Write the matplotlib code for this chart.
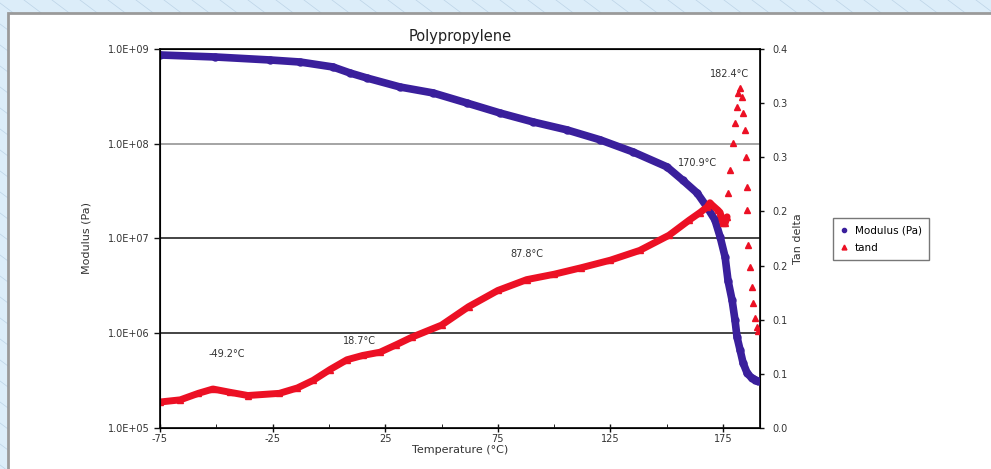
import matplotlib
matplotlib.use("Agg")
import matplotlib.pyplot as plt
from matplotlib.lines import Line2D
from matplotlib.patches import Rectangle
from matplotlib.ticker import FixedLocator, FuncFormatter

plt.rcParams['font.family'] = ['DejaVu Sans']
plt.rcParams['axes.unicode_minus'] = False

# storage modulus (Pa) vs temperature (C)
mod_temp = [-75, -50.6, -26.2, -12.8, 1.8, 9.4, 16.9, 31.6, 46.2, 61.3, 76.0,
            90.6, 105.7, 120.4, 135.0, 150.1, 157.2, 163.5, 167.9, 171.4,
            173.7, 175.9, 177.2, 179.0, 180.3, 181.2, 182.6, 183.9, 185.7,
            187.7, 189.2, 190.5]
modulus = [8.65e8, 8.24e8, 7.66e8, 7.29e8, 6.46e8, 5.58e8, 4.94e8, 3.97e8,
           3.44e8, 2.69e8, 2.11e8, 1.70e8, 1.40e8, 1.10e8, 8.2e7, 5.7e7,
           4.1e7, 3.02e7, 2.14e7, 1.57e7, 1.04e7, 6.4e6, 3.6e6, 2.24e6,
           1.38e6, 9.1e5, 6.6e5, 4.85e5, 3.8e5, 3.37e5, 3.24e5, 3.1e5]

# tan delta, dense part of the run
tan_temp = [-75, -66, -58, -51.5, -44, -36, -22, -14, -7, 0.5, 8, 15, 22.7,
            30, 37, 50, 62, 75, 87.8, 100, 112, 125, 138, 151, 160, 164.8,
            167.9, 169.2, 170.1, 172.8, 173.7, 175.0, 175.9, 176.8]
tan_delta = [0.024, 0.026, 0.032, 0.036, 0.033, 0.030, 0.032, 0.037, 0.044,
             0.054, 0.063, 0.067, 0.070, 0.077, 0.084, 0.095, 0.112, 0.127,
             0.137, 0.142, 0.148, 0.155, 0.164, 0.178, 0.192, 0.199, 0.204,
             0.208, 0.206, 0.201, 0.199, 0.189, 0.189, 0.195]

# tan delta around the melt peak (sparse points)
peak_temp = [177.2, 178.1, 179.4, 180.3, 181.2, 181.6, 182.5, 183.4, 183.8,
             184.7, 185.1, 185.6, 185.8, 186.0, 186.9, 187.8, 188.3, 189.2,
             190.1, 190.5]
peak_tan = [0.217, 0.238, 0.263, 0.282, 0.296, 0.309, 0.314, 0.306, 0.291,
            0.275, 0.250, 0.223, 0.201, 0.169, 0.149, 0.130, 0.115, 0.102,
            0.093, 0.090]

# transition temperatures written on the chart
label_temp = [-49.2, 18.7, 87.8, 170.9, 182.4]
label_tan = [0.066, 0.078, 0.160, 0.245, 0.330]
label_shift = [(6, -2), (-8, -2), (0, -3), (-12, -4), (-7, -6)]

tan_ticks = [0, 0.05, 0.10, 0.15, 0.20, 0.25, 0.30, 0.35]
tan_ticklabels = ["0.0", "0.1", "0.1", "0.2", "0.2", "0.3", "0.3", "0.4"]

purple = '#3a1f9c'
red = '#ec1024'
txt = '#333333'

fig = plt.figure(figsize=(9.91, 4.69), dpi=100, facecolor='#dcedf9')

# page background: faint diagonal hatching behind the white panel
W, H = 991, 469
for x0 in range(-900, W + 30, 28):
    fig.add_artist(Line2D([x0 / W, (x0 + 800) / W], [1, 1 - 600 / H],
                          transform=fig.transFigure, color='#bcd3e6',
                          lw=0.5, zorder=-20))
fig.patches.append(Rectangle((8 / W, -0.01), 1, (457 + 4) / H,
                             transform=fig.transFigure, facecolor='white',
                             edgecolor='#9a9a9a', lw=2, zorder=-10))

ax = fig.add_axes([160 / W, 41 / H, 600 / W, 379 / H])
ax.set_yscale('log')
ax.set_ylim(1e5, 1e9)
ax.set_xlim(-75, 191.4)
ax.set_facecolor('none')

for v, c in [(1e8, '#8c8c8c'), (1e7, '#111111'), (1e6, '#111111')]:
    ax.axhline(v, color=c, lw=1.1, zorder=0)

ax.plot(mod_temp, modulus, color=purple, lw=5.5, marker='o', ms=5,
        solid_capstyle='round', solid_joinstyle='round', zorder=3)

ax.yaxis.set_major_locator(FixedLocator([1e5, 1e6, 1e7, 1e8, 1e9]))
ax.yaxis.set_minor_locator(FixedLocator([]))
ax.yaxis.set_major_formatter(FuncFormatter(lambda v, p: f"{v:.1E}"))
ax.set_xticks([-75, -25, 25, 75, 125, 175])
ax.set_xticks([-50, 0, 50, 100, 150], minor=True)
ax.tick_params(axis='both', labelsize=7, labelcolor=txt, color='#111111',
               length=4, width=1)
ax.tick_params(axis='x', direction='inout', length=6, pad=1)
ax.tick_params(axis='x', which='minor', direction='in', length=3)
for s in ax.spines.values():
    s.set_color('#111111')
    s.set_linewidth(1.3)

ax.set_title("Polypropylene", fontsize=10.5, color='#222222', pad=6)
ax.set_xlabel("Temperature (°C)", fontsize=8, color=txt, labelpad=1)
ax.set_ylabel("Modulus (Pa)", fontsize=8, color=txt, labelpad=12)

ax2 = ax.twinx()
ax2.set_ylim(0, 0.35)
ax2.plot(tan_temp, tan_delta, color=red, lw=5, marker='^', ms=4,
         solid_capstyle='round', solid_joinstyle='round', zorder=2)
ax2.plot(peak_temp, peak_tan, ls='none', color=red, marker='^', ms=4.5)
ax2.set_yticks(tan_ticks)
ax2.set_yticklabels(tan_ticklabels)
ax2.tick_params(axis='y', labelsize=7, labelcolor=txt, color='#111111',
                length=3, width=1, pad=6)
ax2.set_ylabel("Tan delta", fontsize=8, color=txt, labelpad=4)

for t, y, d in zip(label_temp, label_tan, label_shift):
    ax2.annotate(f"{t}°C", (t, y), xytext=d, textcoords='offset points',
                 fontsize=7, color=txt, ha='center', va='bottom')

h1 = ax.plot([], [], ls='none', marker='o', ms=3, color=purple)[0]
h2 = ax.plot([], [], ls='none', marker='^', ms=3.5, color=red)[0]
leg = fig.legend([h1, h2], ['Modulus (Pa)', 'tand'], loc='upper left',
                 bbox_to_anchor=(833 / W, 1 - 218 / H), fontsize=7.5,
                 frameon=True, fancybox=False, edgecolor='#555555',
                 handlelength=0.8, handletextpad=0.6, borderpad=0.7,
                 labelspacing=0.7, borderaxespad=0)
leg.get_frame().set_linewidth(1)

fig.savefig('out.png', dpi=100, facecolor=fig.get_facecolor())
